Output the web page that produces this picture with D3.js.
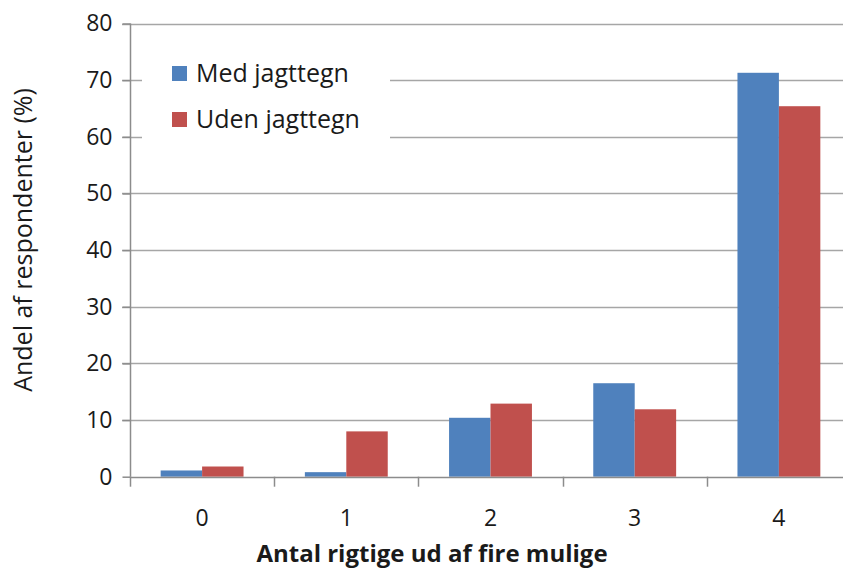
<!DOCTYPE html>
<html>
<head>
<meta charset="utf-8">
<script src="https://cdn.jsdelivr.net/npm/d3@7"></script>
<style>
  body { margin: 0; background: #fff; }
  svg { display: block; font-family: "Open Sans", sans-serif; }
</style>
</head>
<body>
<svg id="chart" width="843" height="570"></svg>
<script>
// Data
var categories = ["0", "1", "2", "3", "4"],
seriesNames = ["Med jagttegn", "Uden jagttegn"],
medValues = [1.1, 0.8, 10.4, 16.5, 71.3],
udenValues = [1.8, 8.0, 12.9, 11.9, 65.4],
yTicks = [0, 10, 20, 30, 40, 50, 60, 70, 80],
colors = ["#4f81bd", "#c0504d"];

var svg = d3.select("#chart"),
plotLeft = 130, plotRight = 851, plotTop = 23.5, plotBottom = 476.7;

var x = d3.scaleBand().domain(categories).range([plotLeft, plotRight]),
xInner = d3.scaleBand().domain([0, 1]).range([0, x.bandwidth()]).paddingOuter(0.74),
y = d3.scaleLinear().domain([0, 80]).range([plotBottom, plotTop]);

// gridlines
svg.append("g").selectAll("line").data(yTicks.slice(1)).join("line")
	.attr("x1", plotLeft - 8).attr("x2", 843)
	.attr("y1", function(d){ return Math.round(y(d)) + 0.5; })
	.attr("y2", function(d){ return Math.round(y(d)) + 0.5; })
	.attr("stroke", "#a6a6a6").attr("stroke-width", 1.5);

// bars
var rows = categories.map(function(c, i){ return [medValues[i], udenValues[i]]; });
var groups = svg.append("g").selectAll("g").data(rows).join("g")
	.attr("transform", function(d, i){ return "translate(" + x(categories[i]) + ",0)"; });
groups.selectAll("rect").data(function(d){ return d; }).join("rect")
	.attr("x", function(d, j){ return xInner(j); })
	.attr("width", xInner.bandwidth())
	.attr("y", function(d){ return y(d); })
	.attr("height", function(d){ return plotBottom - y(d); })
	.attr("fill", function(d, j){ return colors[j]; });

// y axis
var yAxis = svg.append("g").attr("transform", "translate(" + (plotLeft + 0.5) + ",0)")
	.call(d3.axisLeft(y).tickValues(yTicks).tickSize(8).tickPadding(10));
yAxis.select(".domain").attr("stroke", "#8c8c8c").attr("stroke-width", 1.5)
	.attr("d", "M0," + plotBottom + "V" + plotTop);
yAxis.selectAll(".tick line").attr("stroke", "#8c8c8c").attr("stroke-width", 1.5);
yAxis.selectAll("text").attr("font-size", 23).attr("fill", "#1a1a1a")
	.attr("font-family", "Open Sans, sans-serif");

// x axis
var xAxis = svg.append("g").attr("transform", "translate(0," + (Math.round(plotBottom) + 0.5) + ")")
	.call(d3.axisBottom(x).tickSize(0).tickPadding(32));
xAxis.select(".domain").attr("stroke", "#8c8c8c").attr("stroke-width", 1.5)
	.attr("d", "M" + plotLeft + ",0H843");
xAxis.selectAll("text").attr("font-size", 23).attr("fill", "#1a1a1a")
	.attr("font-family", "Open Sans, sans-serif");
// category separators
svg.append("g").selectAll("line").data(categories).join("line")
	.attr("x1", function(d){ return Math.round(x(d)) + 0.5; })
	.attr("x2", function(d){ return Math.round(x(d)) + 0.5; })
	.attr("y1", plotBottom).attr("y2", plotBottom + 10)
	.attr("stroke", "#8c8c8c").attr("stroke-width", 1.5);

// legend
var legend = svg.append("g");
legend.append("rect").attr("x", 142).attr("y", 32).attr("width", 248).attr("height", 110).attr("fill", "#fff");
seriesNames.forEach(function(name, i){
	legend.append("rect").attr("x", 172).attr("y", 66 + i * 46).attr("width", 15).attr("height", 15).attr("fill", colors[i]);
	legend.append("text").attr("x", 196).attr("y", 82 + i * 46)
		.attr("font-size", 25).attr("fill", "#1a1a1a").text(name);
});

// axis titles
svg.append("text").attr("transform", "translate(32,240) rotate(-90)")
	.attr("text-anchor", "middle").attr("font-size", 25).attr("fill", "#1a1a1a")
	.text("Andel af respondenter (%)");
svg.append("text").attr("x", 432).attr("y", 562)
	.attr("text-anchor", "middle").attr("font-size", 24).attr("font-weight", "bold").attr("fill", "#1a1a1a")
	.text("Antal rigtige ud af fire mulige");
</script>
</body>
</html>
